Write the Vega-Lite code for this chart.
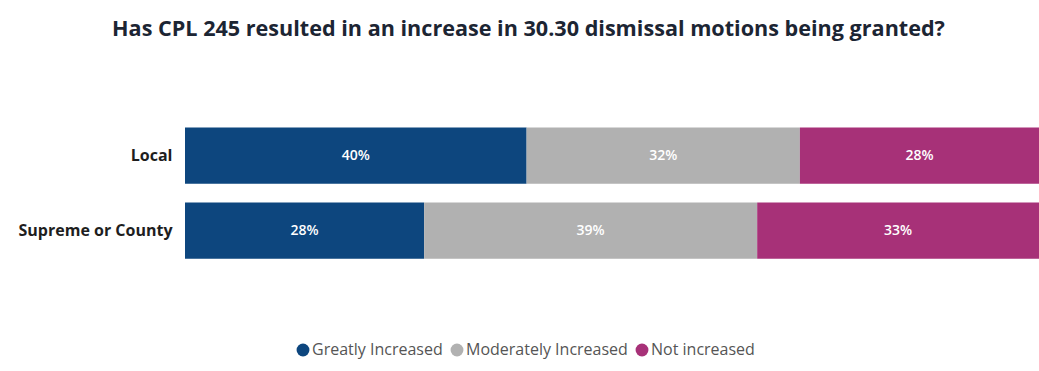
{
  "$schema": "https://vega.github.io/schema/vega-lite/v6.json",
  "width": 854,
  "height": 150,
  "autosize": "none",
  "padding": {"left": 185, "top": 118, "right": 0, "bottom": 103},
  "background": "white",
  "config": {"view": {"stroke": null}},
  "title": {
    "text": "Has CPL 245 resulted in an increase in 30.30 dismissal motions being granted?",
    "anchor": "middle",
    "frame": "bounds",
    "font": "Open Sans",
    "fontSize": 21.6,
    "fontWeight": "bold",
    "color": "#1c2533",
    "offset": 77
  },
  "data": {
    "values": [
      {"court": "Local", "response": "Greatly Increased", "order": 1, "share": 0.40},
      {"court": "Local", "response": "Moderately Increased", "order": 2, "share": 0.32},
      {"court": "Local", "response": "Not increased", "order": 3, "share": 0.28},
      {"court": "Supreme or County", "response": "Greatly Increased", "order": 1, "share": 0.28},
      {"court": "Supreme or County", "response": "Moderately Increased", "order": 2, "share": 0.39},
      {"court": "Supreme or County", "response": "Not increased", "order": 3, "share": 0.33}
    ]
  },
  "transform": [
    {"stack": "share", "groupby": ["court"], "sort": [{"field": "order", "order": "ascending"}], "as": ["s0", "s1"]}
  ],
  "encoding": {
    "y": {
      "field": "court",
      "type": "nominal",
      "sort": ["Local", "Supreme or County"],
      "scale": {"paddingInner": 0.25, "paddingOuter": 0.125},
      "axis": {
        "title": null,
        "domain": false,
        "ticks": false,
        "labelFont": "Open Sans",
        "labelFontSize": 16,
        "labelFontWeight": "bold",
        "labelColor": "#1e1e1e",
        "labelPadding": 13,
        "labelLimit": 300
      }
    }
  },
  "layer": [
    {
      "mark": {"type": "bar"},
      "encoding": {
        "x": {"field": "s0", "type": "quantitative", "scale": {"domain": [0, 1], "nice": false}, "axis": null},
        "x2": {"field": "s1"},
        "color": {
          "field": "response",
          "type": "nominal",
          "scale": {
            "domain": ["Greatly Increased", "Moderately Increased", "Not increased"],
            "range": ["#0d467e", "#b1b1b1", "#a73178"]
          },
          "legend": {
            "title": null,
            "orient": "none",
            "direction": "horizontal",
            "legendX": 110,
            "legendY": 224,
            "symbolType": "circle",
            "symbolSize": 165,
            "symbolStrokeWidth": 0,
            "symbolOpacity": 1,
            "labelFont": "Open Sans",
            "labelFontSize": 16,
            "labelColor": "#555555",
            "labelOffset": 1,
            "labelLimit": 300,
            "columnPadding": 6
          }
        }
      }
    },
    {
      "transform": [
        {"fold": ["s0", "s1"], "as": ["edge", "pos"]},
        {"aggregate": [{"op": "mean", "field": "pos", "as": "mid"}], "groupby": ["court", "response", "share"]}
      ],
      "mark": {"type": "text", "color": "white", "font": "Open Sans", "fontSize": 14, "fontWeight": 600},
      "encoding": {
        "x": {"field": "mid", "type": "quantitative"},
        "text": {"field": "share", "type": "quantitative", "format": ".0%"}
      }
    }
  ]
}
